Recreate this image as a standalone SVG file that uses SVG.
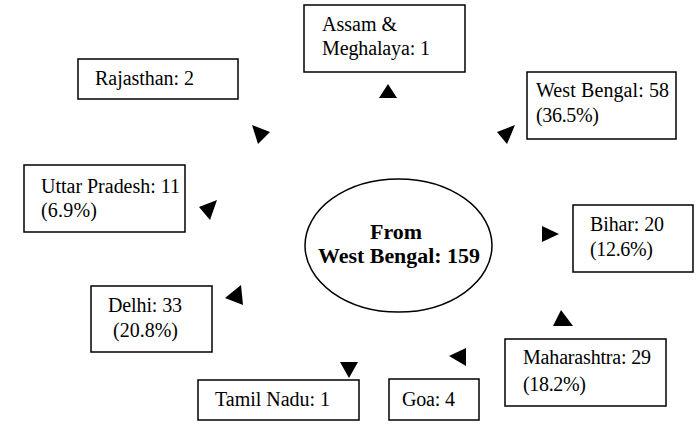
<svg xmlns="http://www.w3.org/2000/svg" width="697" height="429" viewBox="0 0 697 429">
<style>
text{font-family:"Liberation Serif","Times New Roman",serif;font-size:20px;fill:#000}
.b{font-weight:bold;text-anchor:middle}
.n{fill:#fff;stroke:#000;stroke-width:1.5}
.ah{fill:#000;stroke:none}
</style>
<rect x="0" y="0" width="697" height="429" fill="#fff"/>
<g id="center"><ellipse class="n" cx="398.5" cy="245.5" rx="93.5" ry="66.5"/>
<text class="b" x="396" y="239" textLength="52" lengthAdjust="spacingAndGlyphs">From</text>
<text class="b" x="399" y="263" textLength="162" lengthAdjust="spacingAndGlyphs">West Bengal: 159</text></g>
<g id="assam"><rect class="n" x="304" y="5" width="161" height="67"/>
<text x="322" y="31" textLength="75" lengthAdjust="spacing">Assam &amp;</text>
<text x="322" y="55" textLength="108" lengthAdjust="spacing">Meghalaya: 1</text></g>
<g id="westbengal"><rect class="n" x="527" y="72" width="149" height="67"/>
<text x="536" y="97" textLength="133" lengthAdjust="spacing">West Bengal: 58</text>
<text x="536" y="122" textLength="63" lengthAdjust="spacing">(36.5%)</text></g>
<g id="rajasthan"><rect class="n" x="78" y="59" width="160" height="40"/>
<text x="95" y="85" textLength="99" lengthAdjust="spacing">Rajasthan: 2</text></g>
<g id="up"><rect class="n" x="24" y="165" width="161" height="67"/>
<text x="41" y="193" textLength="139" lengthAdjust="spacing">Uttar Pradesh: 11</text>
<text x="41" y="217" textLength="56" lengthAdjust="spacing">(6.9%)</text></g>
<g id="bihar"><rect class="n" x="573" y="205" width="120" height="67"/>
<text x="590" y="231" textLength="74" lengthAdjust="spacing">Bihar: 20</text>
<text x="590" y="256" textLength="63" lengthAdjust="spacing">(12.6%)</text></g>
<g id="delhi"><rect class="n" x="91" y="286" width="121" height="66"/>
<text x="108" y="312" textLength="74" lengthAdjust="spacing">Delhi: 33</text>
<text x="113" y="337" textLength="65" lengthAdjust="spacing">(20.8%)</text></g>
<g id="maharashtra"><rect class="n" x="505" y="339" width="161" height="67"/>
<text x="523" y="364" textLength="128" lengthAdjust="spacing">Maharashtra: 29</text>
<text x="523" y="391" textLength="63" lengthAdjust="spacing">(18.2%)</text></g>
<g id="tamilnadu"><rect class="n" x="198" y="380" width="161" height="40"/>
<text x="215" y="406" textLength="115" lengthAdjust="spacing">Tamil Nadu: 1</text></g>
<g id="goa"><rect class="n" x="389" y="379" width="90" height="41"/>
<text x="402" y="406" textLength="53" lengthAdjust="spacing">Goa: 4</text></g>
<g id="connectors">
<polygon class="ah" points="388,84 379,98 397,98"/>
<polygon class="ah" points="497,132 515,125 507,144"/>
<polygon class="ah" points="252,125 270,132 258,144"/>
<polygon class="ah" points="199,207 217,200 210,220"/>
<polygon class="ah" points="241,285 225,298 243,305"/>
<polygon class="ah" points="340,362 358,362 349,378"/>
<polygon class="ah" points="449,356 466,348 466,366"/>
<polygon class="ah" points="561,310 553,326 573,326"/>
<polygon class="ah" points="542,226 559,234 542,242"/>
</g>
</svg>
